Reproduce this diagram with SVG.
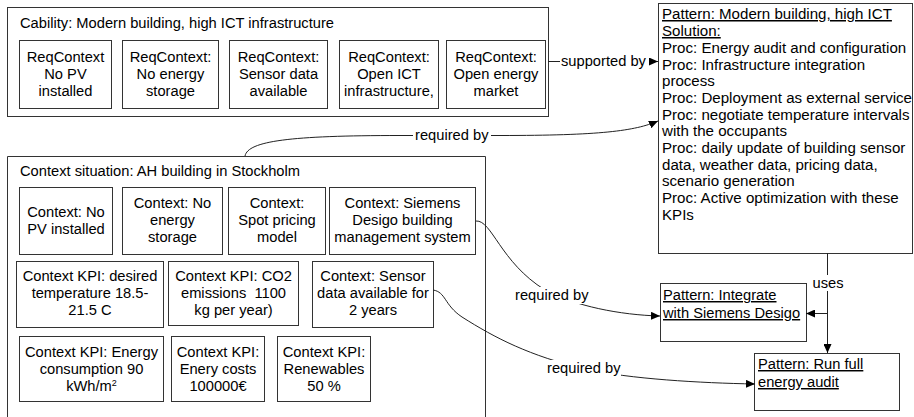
<svg xmlns="http://www.w3.org/2000/svg" width="914" height="417" viewBox="0 0 914 417">
<defs>
<style>
text{font-family:"Liberation Sans",Arial,sans-serif;font-size:14.7px;fill:#000}
.p{font-size:15.1px}
.c{text-anchor:middle}
.u{text-decoration:underline}
.box{fill:#fff;stroke:#333;stroke-width:1}
.ln{fill:none;stroke:#222;stroke-width:1}
.lb{fill:#fff}
</style>
<marker id="ah" markerWidth="9" markerHeight="8" refX="9" refY="4" orient="auto" markerUnits="userSpaceOnUse">
<path d="M0,0 L9,4 L0,8 Z" fill="#000"/>
</marker>
</defs>
<rect width="914" height="417" fill="#fff"/>

<g id="cability">
<rect class="box" x="7.5" y="7.5" width="541" height="109"/>
<text x="20" y="28">Cability: Modern building, high ICT infrastructure</text>
<g id="req1"><rect class="box" x="19.5" y="40.5" width="92" height="68"/>
<text class="c" x="65.5" y="62">ReqContext</text><text class="c" x="65.5" y="79">No PV</text><text class="c" x="65.5" y="96">installed</text></g>
<g id="req2"><rect class="box" x="122.5" y="40.5" width="96" height="68"/>
<text class="c" x="170.5" y="62">ReqContext:</text><text class="c" x="170.5" y="79">No energy</text><text class="c" x="170.5" y="96">storage</text></g>
<g id="req3"><rect class="box" x="229.5" y="40.5" width="98" height="68"/>
<text class="c" x="278.5" y="62">ReqContext:</text><text class="c" x="278.5" y="79">Sensor data</text><text class="c" x="278.5" y="96">available</text></g>
<g id="req4"><rect class="box" x="339.5" y="40.5" width="99" height="68"/>
<text class="c" x="389" y="62">ReqContext:</text><text class="c" x="389" y="79">Open ICT</text><text class="c" x="389" y="96">infrastructure,</text></g>
<g id="req5"><rect class="box" x="446.5" y="40.5" width="99" height="68"/>
<text class="c" x="496" y="62">ReqContext:</text><text class="c" x="496" y="79">Open energy</text><text class="c" x="496" y="96">market</text></g>
</g>

<g id="context">
<path class="box" d="M7.5,420 V156.5 H485.5 V420"/>
<text x="20" y="176">Context situation: AH building in Stockholm</text>
<g id="ctx1"><rect class="box" x="19.5" y="187.5" width="93" height="67"/>
<text class="c" x="66" y="217">Context: No</text><text class="c" x="66" y="234">PV installed</text></g>
<g id="ctx2"><rect class="box" x="122.5" y="187.5" width="100" height="67"/>
<text class="c" x="172.5" y="208">Context: No</text><text class="c" x="172.5" y="225">energy</text><text class="c" x="172.5" y="242">storage</text></g>
<g id="ctx3"><rect class="box" x="228.5" y="187.5" width="97" height="67"/>
<text class="c" x="277" y="208">Context:</text><text class="c" x="277" y="225">Spot pricing</text><text class="c" x="277" y="242">model</text></g>
<g id="ctx4"><rect class="box" x="329.5" y="187.5" width="146" height="67"/>
<text class="c" x="402.5" y="208">Context: Siemens</text><text class="c" x="402.5" y="225">Desigo building</text><text class="c" x="402.5" y="242">management system</text></g>
<g id="kpi1"><rect class="box" x="16.5" y="261.5" width="147" height="66"/>
<text class="c" x="90" y="281">Context KPI: desired</text><text class="c" x="90" y="298">temperature 18.5-</text><text class="c" x="90" y="315">21.5 C</text></g>
<g id="kpi2"><rect class="box" x="168.5" y="261.5" width="130" height="64"/>
<text class="c" x="233.5" y="281">Context KPI: CO2</text><text class="c" x="233.5" y="298">emissions&#160; 1100</text><text class="c" x="233.5" y="315">kg per year)</text></g>
<g id="ctx5"><rect class="box" x="312.5" y="261.5" width="121" height="66"/>
<text class="c" x="373" y="281">Context: Sensor</text><text class="c" x="373" y="298">data available for</text><text class="c" x="373" y="315">2 years</text></g>
<g id="kpi3"><rect class="box" x="19.5" y="336.5" width="144" height="65"/>
<text class="c" x="91.5" y="357">Context KPI: Energy</text><text class="c" x="91.5" y="374">consumption 90</text><text class="c" x="91.5" y="391">kWh/m<tspan font-size="9" dy="-5">2</tspan></text></g>
<g id="kpi4"><rect class="box" x="171.5" y="336.5" width="93" height="65"/>
<text class="c" x="218" y="357">Context KPI:</text><text class="c" x="218" y="374">Enery costs</text><text class="c" x="218" y="391">100000€</text></g>
<g id="kpi5"><rect class="box" x="277.5" y="336.5" width="93" height="65"/>
<text class="c" x="324" y="357">Context KPI:</text><text class="c" x="324" y="374">Renewables</text><text class="c" x="324" y="391">50 %</text></g>
</g>

<g id="pattern-main">
<rect class="box" x="658.5" y="3.5" width="254" height="250"/>
<text x="662" y="19" class="u p">Pattern: Modern building, high ICT</text>
<text x="662" y="36" class="u p">Solution:</text>
<text x="662" y="53" class="p">Proc: Energy audit and configuration</text>
<text x="662" y="70" class="p">Proc: Infrastructure integration</text>
<text x="662" y="86" class="p">process</text>
<text x="662" y="103" class="p">Proc: Deployment as external service</text>
<text x="662" y="120" class="p">Proc: negotiate temperature intervals</text>
<text x="662" y="136" class="p">with the occupants</text>
<text x="662" y="153" class="p">Proc: daily update of building sensor</text>
<text x="662" y="170" class="p">data, weather data, pricing data,</text>
<text x="662" y="186" class="p">scenario generation</text>
<text x="662" y="203" class="p">Proc: Active optimization with these</text>
<text x="662" y="220" class="p">KPIs</text>
</g>

<g id="pattern-integrate">
<rect class="box" x="660.5" y="283.5" width="146" height="58"/>
<text x="663" y="300" class="u">Pattern: Integrate</text>
<text x="663" y="318" class="u">with Siemens Desigo</text>
</g>

<g id="pattern-audit">
<rect class="box" x="754.5" y="353.5" width="145" height="57"/>
<text x="758" y="369" class="u">Pattern: Run full</text>
<text x="758" y="387" class="u">energy audit</text>
</g>

<g id="connectors">
<path class="ln" d="M548,61.5 H658" marker-end="url(#ah)"/>
<rect class="lb" x="560" y="53" width="89" height="17"/>
<text x="561" y="66">supported by</text>

<path class="ln" d="M245,156 C248,141 290,135.5 400,135.5 L500,135.5 C600,135.5 635,131 658,121" marker-end="url(#ah)"/>
<rect class="lb" x="413" y="127" width="78" height="17"/>
<text x="415" y="140">required by</text>

<path class="ln" d="M476,221 C492,220 500,262 545,290 C575,306 620,315 660,316" marker-end="url(#ah)"/>
<rect class="lb" x="514" y="287" width="75" height="17"/>
<text x="515" y="300">required by</text>

<path class="ln" d="M433,290 C446,292 444,305 462,317 C495,338 530,356 585,369 C630,379 700,383 755,384" marker-end="url(#ah)"/>
<rect class="lb" x="546" y="360" width="75" height="17"/>
<text x="547" y="373">required by</text>

<path class="ln" d="M827.5,253 V353" marker-end="url(#ah)"/>
<path class="ln" d="M827.5,313.5 H806" marker-end="url(#ah)"/>
<rect class="lb" x="812" y="275" width="32" height="16"/>
<text class="c" x="828" y="288">uses</text>
</g>
</svg>
